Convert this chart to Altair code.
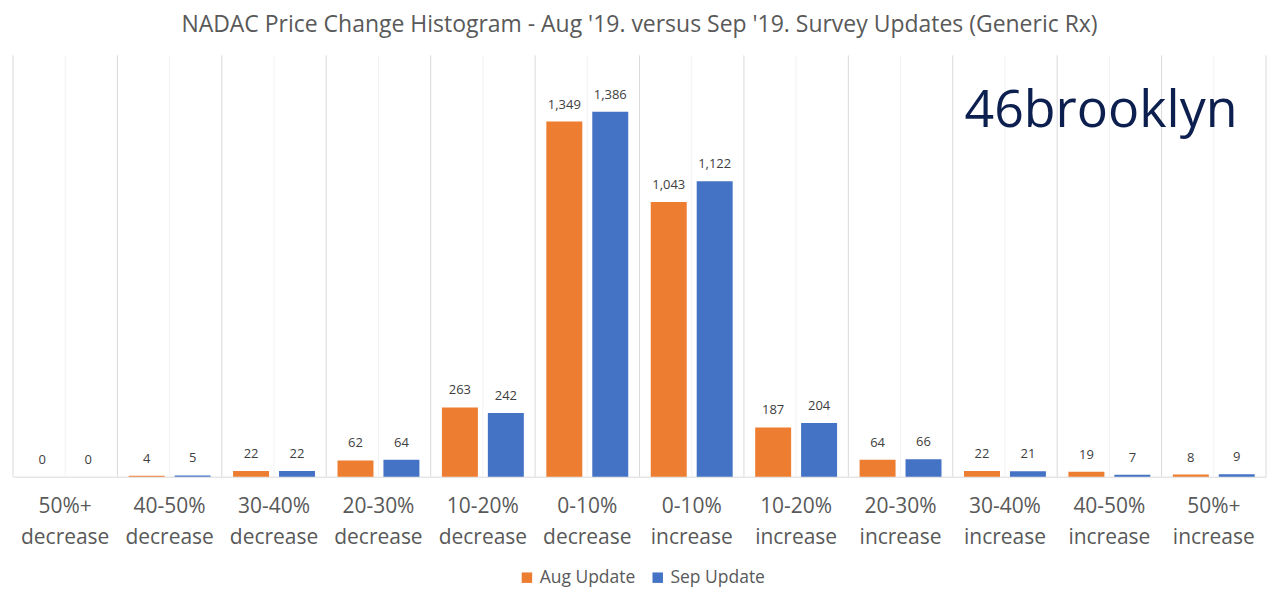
import altair as alt
import pandas as pd

categories = ["50%+ decrease", "40-50% decrease", "30-40% decrease", "20-30% decrease",
              "10-20% decrease", "0-10% decrease", "0-10% increase", "10-20% increase",
              "20-30% increase", "30-40% increase", "40-50% increase", "50%+ increase"]
aug_values = [0, 4, 22, 62, 263, 1349, 1043, 187, 64, 22, 19, 8]
sep_values = [0, 5, 22, 64, 242, 1386, 1122, 204, 66, 21, 7, 9]
series = ["Aug Update", "Sep Update"]
colors = ["#ED7D31", "#4472C4"]

rows = []
for c, a, s in zip(categories, aug_values, sep_values):
    rows.append({"cat": c, "series": series[0], "value": a})
    rows.append({"cat": c, "series": series[1], "value": s})
df = pd.DataFrame(rows)
cat_df = pd.DataFrame({"cat": categories})
logo_df = pd.DataFrame({"t": ["46brooklyn"]})

FONT = "Open Sans"
W, H = 1255, 422

x_scale = alt.Scale(domain=categories, paddingInner=0, paddingOuter=0)
x_axis = alt.Axis(labelExpr="split(datum.value, ' ')", labelFontSize=21,
                  labelColor="#595959", labelFont=FONT, labelLineHeight=31,
                  labelPadding=19, labelAngle=0, ticks=False, bandPosition=0.5,
                  domainColor="#D9D9D9", grid=False, title=None, orient="bottom")


def xcat(bp=None):
    kw = {}
    if bp is not None:
        kw["bandPosition"] = bp
    return alt.X("cat:N", sort=categories, title=None, scale=x_scale, axis=x_axis, **kw)


xo = alt.XOffset("series:N", sort=series,
                 scale=alt.Scale(paddingInner=0.217, paddingOuter=0.245))
y_enc = alt.Y("value:Q", scale=alt.Scale(domain=[0, 1600]), axis=None)

center_rules = alt.Chart(cat_df).mark_rule(color="#F2F2F2", strokeWidth=1).encode(
    x=xcat(0.5), y=alt.value(0), y2=alt.value(H))

boundary_rules = alt.Chart(cat_df).mark_rule(color="#D9D9D9", strokeWidth=1).encode(
    x=xcat(0), y=alt.value(0), y2=alt.value(H))

right_rule = alt.Chart(cat_df.head(1)).mark_rule(color="#D9D9D9", strokeWidth=1).encode(
    x=alt.value(W), y=alt.value(0), y2=alt.value(H))

bars = alt.Chart(df).mark_bar().encode(
    x=xcat(), xOffset=xo, y=y_enc,
    color=alt.Color("series:N", sort=series,
                    scale=alt.Scale(domain=series, range=colors),
                    legend=alt.Legend(title=None, orient="none", legendX=506, legendY=514,
                                      direction="horizontal", symbolType="square",
                                      symbolSize=110, labelFontSize=17.5, labelFont=FONT,
                                      labelColor="#595959", columnPadding=13,
                                      symbolStrokeWidth=0)))

labels = alt.Chart(df).mark_text(dy=-17, fontSize=13, font=FONT, color="#404040").encode(
    x=xcat(), xOffset=xo, y=y_enc,
    text=alt.Text("value:Q", format=",d"))

logo = alt.Chart(logo_df).mark_text(align="left", baseline="alphabetic", fontSize=52,
                                    font=FONT, color="#0C1F4E").encode(
    x=alt.value(953), y=alt.value(72), text="t:N")

chart = alt.layer(center_rules, boundary_rules, right_rule, bars, labels, logo).properties(
    width=W, height=H,
    padding={"left": 4, "right": 2, "top": 5, "bottom": 0},
    title=alt.TitleParams("NADAC Price Change Histogram - Aug '19. versus Sep '19. Survey Updates (Generic Rx)",
                          fontSize=23, font=FONT, fontWeight="normal", color="#595959",
                          offset=18, anchor="middle"),
).configure(background="white").configure_view(stroke="transparent", strokeWidth=0)

chart.save("out.html", embed_options={"renderer": "svg", "actions": False})
